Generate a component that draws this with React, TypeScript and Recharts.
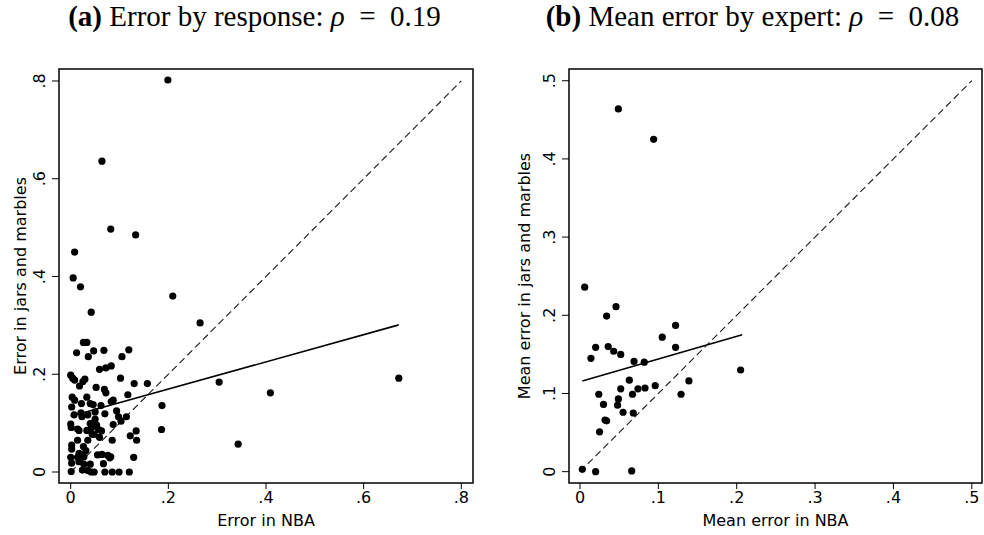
import {
  Label,
  ReferenceArea,
  ReferenceLine,
  Scatter,
  ScatterChart,
  XAxis,
  YAxis,
} from "recharts";

// (a) error by response: [error in NBA, error in jars and marbles]
const responsePoints: [number, number][] = [
  [0.199, 0.802], [0.064, 0.636], [0.082, 0.497], [0.133, 0.485], [0.008, 0.45],
  [0.005, 0.397], [0.02, 0.379], [0.209, 0.36], [0.265, 0.305], [0.042, 0.327],
  [0.304, 0.184], [0.409, 0.162], [0.672, 0.192], [0.343, 0.057], [0.187, 0.136],
  [0.186, 0.087], [0.157, 0.181],
  [0.026, 0.265], [0.033, 0.265], [0.012, 0.244], [0.036, 0.236], [0.047, 0.248],
  [0.068, 0.249], [0.119, 0.25], [0.105, 0.236], [0.059, 0.21], [0.072, 0.213],
  [0.083, 0.217], [0.102, 0.192], [0.13, 0.181], [0.0, 0.198], [0.004, 0.192],
  [0.008, 0.188], [0.025, 0.185], [0.029, 0.19], [0.018, 0.176], [0.052, 0.173],
  [0.069, 0.169], [0.072, 0.162], [0.117, 0.158], [0.003, 0.153], [0.008, 0.147],
  [0.033, 0.153], [0.04, 0.14], [0.046, 0.138], [0.002, 0.133], [0.022, 0.14],
  [0.062, 0.136], [0.083, 0.144], [0.087, 0.147],
  [0.007, 0.117], [0.021, 0.121], [0.023, 0.113], [0.035, 0.117], [0.05, 0.123],
  [0.07, 0.119], [0.094, 0.125], [0.098, 0.113], [0.103, 0.104], [0.114, 0.113],
  [0.087, 0.097], [0.05, 0.108], [0.053, 0.096], [0.04, 0.099], [0.043, 0.091],
  [0.0, 0.098], [0.001, 0.091], [0.014, 0.088], [0.017, 0.085], [0.033, 0.085],
  [0.057, 0.087], [0.063, 0.084], [0.044, 0.077], [0.048, 0.077], [0.059, 0.071],
  [0.134, 0.084], [0.135, 0.065], [0.122, 0.074], [0.085, 0.065], [0.014, 0.065],
  [0.035, 0.065], [0.002, 0.055], [0.002, 0.047], [0.026, 0.052], [0.031, 0.044],
  [0.017, 0.038], [0.022, 0.035], [0.027, 0.031], [0.014, 0.03], [0.055, 0.035],
  [0.064, 0.036], [0.076, 0.034], [0.082, 0.031], [0.129, 0.03], [0.0, 0.03],
  [0.002, 0.018], [0.017, 0.021], [0.027, 0.016], [0.067, 0.017], [0.08, 0.029],
  [0.04, 0.016], [0.001, 0.001], [0.024, 0.004], [0.035, 0.003], [0.042, 0.0],
  [0.048, 0.0], [0.07, 0.0], [0.085, 0.0], [0.099, 0.0], [0.12, 0.0],
];

// (b) mean error by expert: [mean error in NBA, mean error in jars and marbles]
const expertPoints: [number, number][] = [
  [0.049, 0.464], [0.094, 0.425], [0.205, 0.13], [0.006, 0.236], [0.034, 0.199],
  [0.046, 0.211], [0.02, 0.159], [0.014, 0.145], [0.036, 0.16], [0.043, 0.154],
  [0.052, 0.15], [0.069, 0.141], [0.082, 0.14], [0.105, 0.172], [0.122, 0.187],
  [0.122, 0.159], [0.139, 0.116], [0.129, 0.099], [0.063, 0.117], [0.052, 0.106],
  [0.074, 0.106], [0.083, 0.107], [0.096, 0.11], [0.067, 0.099], [0.024, 0.099],
  [0.03, 0.086], [0.049, 0.093], [0.048, 0.085], [0.055, 0.076], [0.068, 0.075],
  [0.032, 0.066], [0.034, 0.065], [0.025, 0.051], [0.003, 0.003], [0.02, 0.0],
  [0.066, 0.001],
];

const fitA = [{ x: 0, y: 0.114 }, { x: 0.672, y: 0.301 }];
const fitB = [{ x: 0.003, y: 0.116 }, { x: 0.207, y: 0.175 }];
const diagA = [{ x: 0, y: 0 }, { x: 0.8, y: 0.8 }];
const diagB = [{ x: 0, y: 0 }, { x: 0.5, y: 0.5 }];

const ticksA = [0, 0.2, 0.4, 0.6, 0.8];
const ticksB = [0, 0.1, 0.2, 0.3, 0.4, 0.5];

const SANS = "DejaVu Sans";
const FS = 16;
const fmt = (v: number) => (v === 0 ? "0" : String(+v.toFixed(2)).replace(/^0/, ""));

const Dot = (props: any) => <circle cx={props.cx} cy={props.cy} r={3.6} fill="#000" />;

function YTick({ x, y, payload }: any) {
  return (
    <text
      x={x}
      y={y}
      transform={`rotate(-90 ${x} ${y})`}
      textAnchor="middle"
      fontSize={FS}
      fontFamily={SANS}
      fill="#000"
    >
      {fmt(payload.value)}
    </text>
  );
}

interface PanelProps {
  points: [number, number][];
  fit: { x: number; y: number }[];
  diag: { x: number; y: number }[];
  xDomain: [number, number];
  yDomain: [number, number];
  ticks: number[];
  xLabel: string;
  yLabel: string;
  yAxisWidth: number;
  yLabelX: number;
  marginRight: number;
}

function Panel(p: PanelProps) {
  const data = p.points.map(([x, y]) => ({ x, y }));
  return (
    <ScatterChart
      width={492}
      height={535}
      margin={{ top: 69, right: p.marginRight, bottom: 0, left: 0 }}
    >
      <XAxis
        type="number"
        dataKey="x"
        domain={p.xDomain}
        allowDataOverflow
        ticks={p.ticks}
        tickFormatter={fmt}
        height={52}
        axisLine={false}
        tickSize={6}
        tickMargin={3}
        tickLine={{ stroke: "#000" }}
        tick={{ fill: "#000", fontSize: FS, fontFamily: SANS }}
      >
        <Label
          content={({ viewBox }: any) => (
            <text
              x={viewBox.x + viewBox.width / 2}
              y={viewBox.y + 43}
              textAnchor="middle"
              fontSize={FS}
              fontFamily={SANS}
              fill="#000"
            >
              {p.xLabel}
            </text>
          )}
        />
      </XAxis>
      <YAxis
        type="number"
        dataKey="y"
        domain={p.yDomain}
        allowDataOverflow
        ticks={p.ticks}
        width={p.yAxisWidth}
        axisLine={false}
        tickSize={7}
        tickMargin={7}
        tickLine={{ stroke: "#000" }}
        tick={<YTick />}
      >
        <Label
          content={({ viewBox }: any) => {
            const cy = viewBox.y + viewBox.height / 2;
            return (
              <text
                x={p.yLabelX}
                y={cy}
                transform={`rotate(-90 ${p.yLabelX} ${cy})`}
                textAnchor="middle"
                fontSize={FS}
                fontFamily={SANS}
                fill="#000"
              >
                {p.yLabel}
              </text>
            );
          }}
        />
      </YAxis>
      <ReferenceArea
        x1={p.xDomain[0]}
        x2={p.xDomain[1]}
        y1={p.yDomain[0]}
        y2={p.yDomain[1]}
        fill="none"
        stroke="#000"
        strokeWidth={1.5}
        fillOpacity={0}
        ifOverflow="visible"
      />
      <Scatter data={data} shape={Dot} isAnimationActive={false} />
      <ReferenceLine
        segment={p.fit}
        stroke="#000"
        strokeWidth={1.6}
        ifOverflow="visible"
      />
      <ReferenceLine
        segment={p.diag}
        stroke="#1a1a1a"
        strokeWidth={1.1}
        strokeDasharray="7 4"
        ifOverflow="visible"
      />
    </ScatterChart>
  );
}

const titleStyle: React.CSSProperties = {
  position: "absolute",
  top: 0,
  width: 480,
  textAlign: "center",
  fontFamily: "Liberation Serif",
  fontSize: 29,
  whiteSpace: "nowrap",
  color: "#000",
};

export default function App() {
  return (
    <div style={{ position: "absolute", left: 0, top: 0, width: 984, height: 535, background: "#fff" }}>
      <div style={{ ...titleStyle, left: 254.5 - 240 }}>
        <b>(a)</b> Error by response: <i>ρ</i>&nbsp;&nbsp;=&nbsp;&nbsp;0.19
      </div>
      <div style={{ ...titleStyle, left: 752.5 - 240 }}>
        <b>(b)</b> Mean error by expert: <i>ρ</i>&nbsp;&nbsp;=&nbsp;&nbsp;0.08
      </div>
      <div style={{ position: "absolute", left: 0, top: 0 }}>
        <Panel
          points={responsePoints}
          fit={fitA}
          diag={diagA}
          xDomain={[-0.024, 0.824]}
          yDomain={[-0.0225, 0.8245]}
          ticks={ticksA}
          xLabel="Error in NBA"
          yLabel="Error in jars and marbles"
          yAxisWidth={59}
          yLabelX={26}
          marginRight={19}
        />
      </div>
      <div style={{ position: "absolute", left: 492, top: 0 }}>
        <Panel
          points={expertPoints}
          fit={fitB}
          diag={diagB}
          xDomain={[-0.014, 0.513]}
          yDomain={[-0.0145, 0.515]}
          ticks={ticksB}
          xLabel="Mean error in NBA"
          yLabel="Mean error in jars and marbles"
          yAxisWidth={77}
          yLabelX={38}
          marginRight={2}
        />
      </div>
    </div>
  );
}
